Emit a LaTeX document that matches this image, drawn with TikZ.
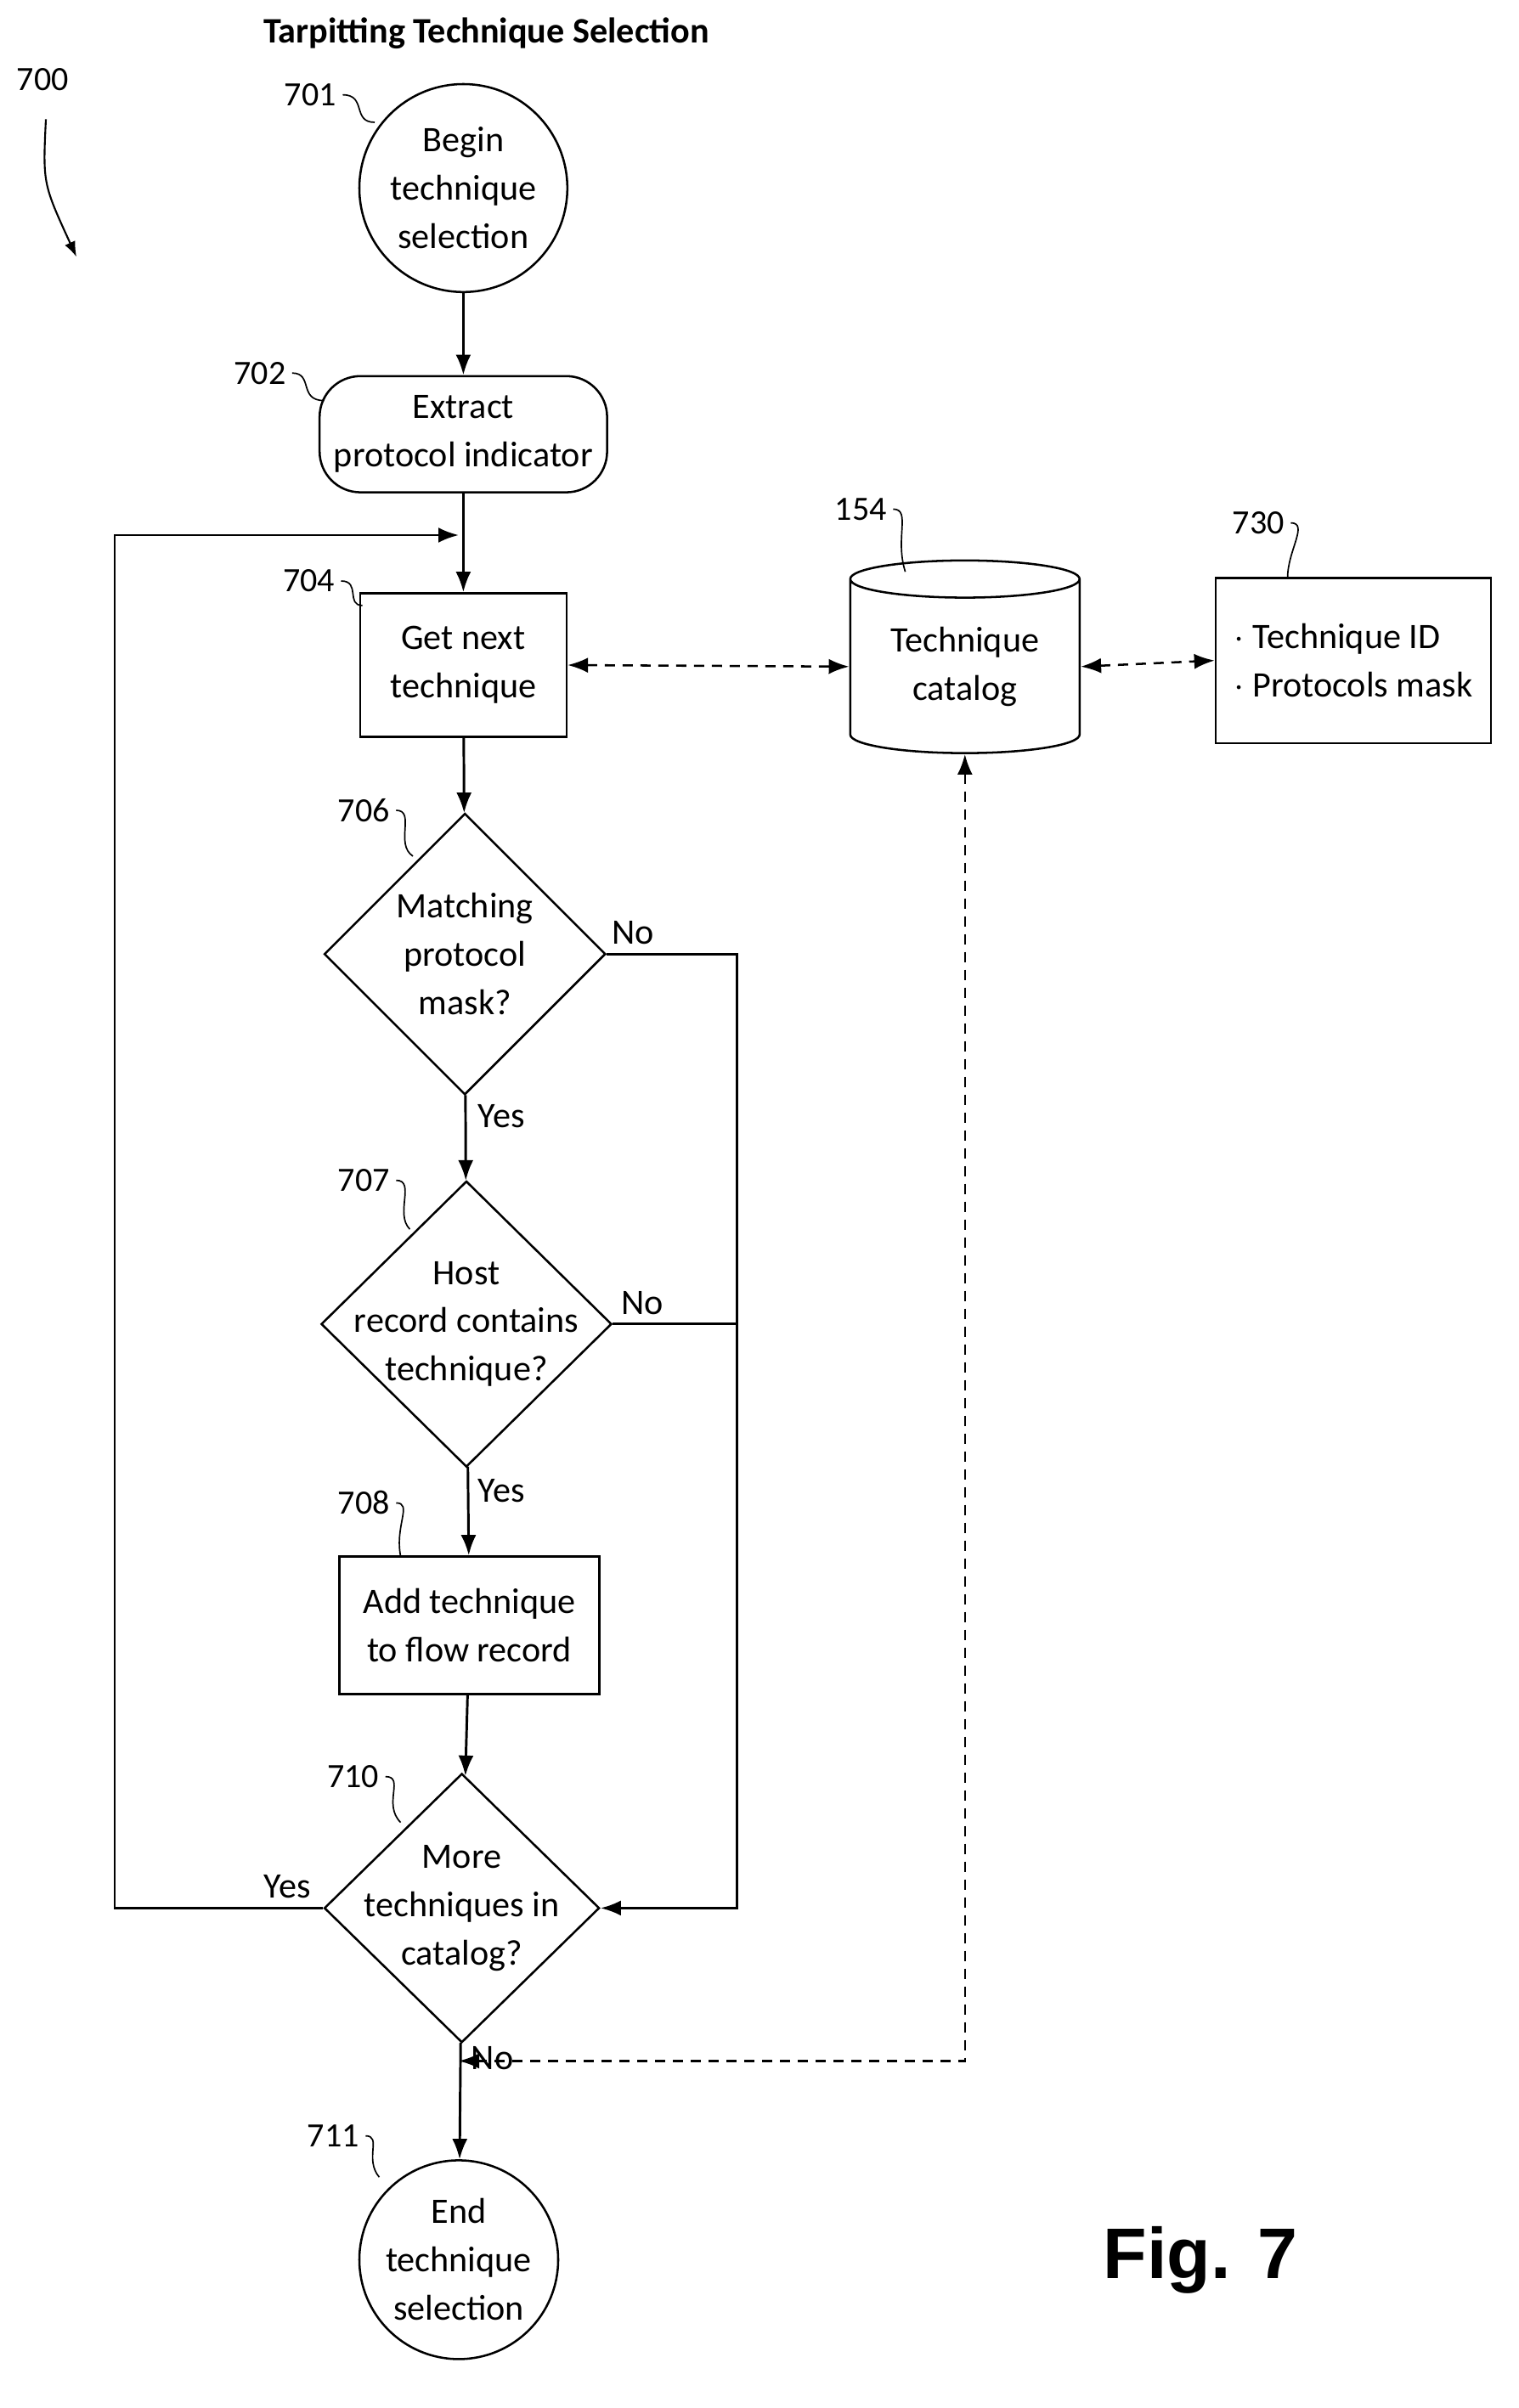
\documentclass[tikz,border=0pt]{standalone}
\usepackage{fontspec}
\setmainfont{Carlito}
\usetikzlibrary{shapes.geometric,arrows.meta}
\tikzset{
  box/.style={draw=black,line width=1.2pt,align=center,inner sep=0pt},
  dia/.style={diamond,draw=black,line width=1.2pt,align=center,inner sep=-5mm,minimum width=184*0.3mm,minimum height=184*0.3mm},
  flow/.style={line width=1.4pt,-{Latex[length=4mm,width=3mm]}},
  dflow/.style={line width=1.2pt,dash pattern=on 2mm off 1.5mm,{Latex[length=4mm,width=3mm]}-{Latex[length=4mm,width=3mm]}},
  ref/.style={font=\fontsize{19}{22}\selectfont},
  squig/.style={line width=0.8pt}
}
\begin{document}
\begin{tikzpicture}[x=0.3mm,y=-0.3mm,font=\fontsize{20}{27}\selectfont]
\useasboundingbox (0,0) rectangle (993,1575);
%Title
\node at (318,22) (title) {\bfseries Tarpitting Technique Selection};
\node[ref] at (28,52) (n700) {700};
\draw[line width=1pt,-{Latex[length=3mm]}] (30,78) .. controls (28,120) .. (50,168);
%Steps
\node at (303,123)[box,circle,minimum size=136*0.3mm] (s701) {Begin\\technique\\selection};
\node at (303,284)[box,rectangle,rounded corners=8mm,minimum width=188*0.3mm,minimum height=76*0.3mm] (s702) {Extract\\protocol indicator};
\node at (303,435)[box,rectangle,minimum width=135*0.3mm,minimum height=94*0.3mm] (s704) {Get next\\technique};
\node at (304,624)[dia] (s706) {Matching\\protocol\\mask?};
\node at (305,866)[dia,minimum width=190*0.3mm,minimum height=187*0.3mm] (s707) {Host\\record contains\\technique?};
\node at (307,1063)[box,rectangle,minimum width=170*0.3mm,minimum height=90*0.3mm] (s708) {Add technique\\to flow record};
\node at (302,1248)[dia,minimum width=180*0.3mm,minimum height=176*0.3mm] (s710) {More\\techniques in\\catalog?};
\node at (300,1478)[box,circle,minimum size=130*0.3mm] (s711) {End\\technique\\selection};
%Catalog
\node at (631,436)[box,cylinder,shape border rotate=90,aspect=0.25,minimum width=150*0.3mm,minimum height=126*0.3mm] (s154) {Technique\\catalog};
\node at (885,432)[box,rectangle,minimum width=180*0.3mm,minimum height=108*0.3mm,align=left] (s730) {$\cdot$ Technique ID\\$\cdot$ Protocols mask};
%Numbers
\node[ref] at (203,62) (n701) {701};
\node[ref] at (170,244) (n702) {702};
\node[ref] at (202,380) (n704) {704};
\node[ref] at (238,530) (n706) {706};
\node[ref] at (238,772) (n707) {707};
\node[ref] at (238,983) (n708) {708};
\node[ref] at (231,1162) (n710) {710};
\node[ref] at (218,1397) (n711) {711};
\node[ref] at (563,333) (n154) {154};
\node[ref] at (823,342) (n730) {730};
\draw[squig] (n701.east) .. controls (240,62) and (230,80) .. (245,80);
\draw[squig] (n702.east) .. controls (205,244) and (195,262) .. (212,262);
\draw[squig] (n704.east) .. controls (236,380) and (226,396) .. (237,396);
\draw[squig] (n706.east) .. controls (272,530) and (258,552) .. (270,560);
\draw[squig] (n707.east) .. controls (272,772) and (258,794) .. (268,804);
\draw[squig] (n708.east) .. controls (270,983) and (258,998) .. (262,1018);
\draw[squig] (n710.east) .. controls (265,1162) and (250,1180) .. (262,1192);
\draw[squig] (n711.east) .. controls (250,1397) and (238,1412) .. (248,1424);
\draw[squig] (n154.east) .. controls (596,333) and (585,352) .. (592,374);
\draw[squig] (n730.east) .. controls (856,342) and (842,360) .. (842,378);
%Flow
\draw[flow] (s701) -- (s702);
\draw[flow] (s702) -- (s704);
\draw[flow] (s704) -- (s706);
\draw[flow] (s706) -- (s707);
\draw[flow] (s707) -- (s708);
\draw[flow] (s708) -- (s710);
\draw[flow] (s710) -- (s711);
\coordinate (loop) at (300,350);
\draw[flow] (s710.west) -- (75,1248) -- (75,350) -- (loop);
\draw[line width=1.4pt] (s706.east) -- (482,624) -- (482,866);
\draw[flow] (s707.east) -- (482,866) -- (482,1248) -- (s710.east);
\node at (414,610) (no1) {No};
\node at (420,852) (no2) {No};
\node at (328,730) (yes1) {Yes};
\node at (328,975) (yes2) {Yes};
\node at (188,1234) (yes3) {Yes};
\node at (322,1346) (no3) {No};
%Catalog links
\draw[dflow] (s704.east) -- (s154.west);
\draw[dflow] (s154.east) -- (s730.west);
\coordinate (back) at (300,1348);
\draw[dflow] (s154.south) -- (631,1348) -- (back);
\node at (785,1478) (fig) {\fontspec{Liberation Sans}\fontsize{40}{44}\selectfont\bfseries Fig. 7};
\end{tikzpicture}
\end{document}
